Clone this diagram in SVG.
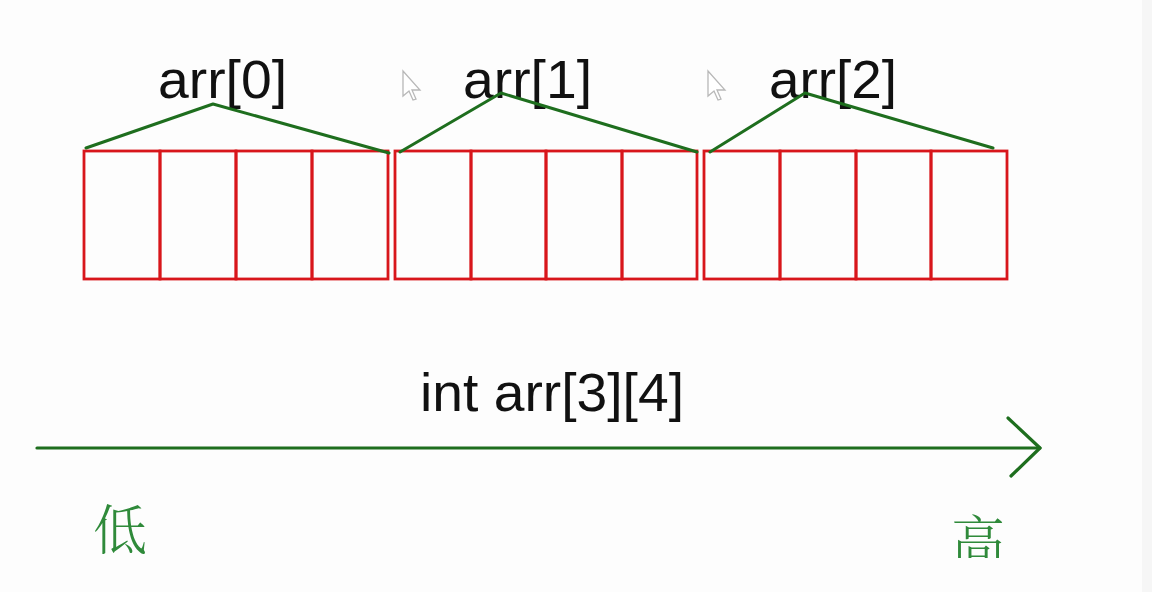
<svg xmlns="http://www.w3.org/2000/svg" width="1152" height="592" viewBox="0 0 1152 592">
  <defs>
    <style>
      .cell { fill: none; stroke: #d8161b; stroke-width: 2.8; }
      .brace { fill: none; stroke: #1e6e1e; stroke-width: 3; stroke-linejoin: round; stroke-linecap: round; }
      .axis { fill: none; stroke: #1e6e1e; stroke-width: 3.2; stroke-linecap: round; stroke-linejoin: round; }
      .lbl { font-family: "Liberation Sans", Arial, sans-serif; font-size: 53px; fill: #111; }
      .cjk { font-family: "Noto Serif CJK SC", "Noto Sans CJK SC", serif; font-size: 54px; fill: #2f8a3a; font-weight: 300; }
      .cursor { fill: #fff; stroke: #b8b8b8; stroke-width: 1.3; }
    </style>
    <clipPath id="clipHigh">
      <rect x="900" y="480" width="150" height="78"/>
    </clipPath>
  </defs>
  <rect width="1152" height="592" fill="#fdfdfd"/>
  <rect x="1142" y="0" width="10" height="592" fill="#f6f6f6"/>

  <g id="row0">
    <rect class="cell" x="84" y="151" width="76" height="128"/>
    <rect class="cell" x="160" y="151" width="76" height="128"/>
    <rect class="cell" x="236" y="151" width="76" height="128"/>
    <rect class="cell" x="312" y="151" width="76" height="128"/>
    <text class="lbl" x="158" y="98" textLength="129" lengthAdjust="spacingAndGlyphs">arr[0]</text>
  </g>
  <g id="row1">
    <rect class="cell" x="395" y="151" width="76" height="128"/>
    <rect class="cell" x="471" y="151" width="75" height="128"/>
    <rect class="cell" x="546" y="151" width="76" height="128"/>
    <rect class="cell" x="622" y="151" width="75" height="128"/>
    <text class="lbl" x="463" y="98" textLength="129" lengthAdjust="spacingAndGlyphs">arr[1]</text>
  </g>
  <g id="row2">
    <rect class="cell" x="704" y="151" width="76" height="128"/>
    <rect class="cell" x="780" y="151" width="76" height="128"/>
    <rect class="cell" x="856" y="151" width="75" height="128"/>
    <rect class="cell" x="931" y="151" width="76" height="128"/>
    <text class="lbl" x="769" y="98" textLength="128" lengthAdjust="spacingAndGlyphs">arr[2]</text>
  </g>

  <g id="connectors">
    <polyline class="brace" points="86,148 213,104 389,153"/>
    <polyline class="brace" points="400,152 501,93 697,152"/>
    <polyline class="brace" points="710,152 805,93 993,148"/>
    <line class="axis" x1="37" y1="448" x2="1040" y2="448"/>
    <polyline class="axis" points="1008,418 1040,448 1011,476"/>
  </g>

  <g id="title">
    <text class="lbl" x="420" y="411" textLength="264" lengthAdjust="spacingAndGlyphs">int arr[3][4]</text>
  </g>
  <g id="low">
    <text class="cjk" x="93" y="550">低</text>
  </g>
  <g id="high" clip-path="url(#clipHigh)">
    <text class="cjk" x="951" y="561">高</text>
  </g>

  <g id="cursors">
    <path class="cursor" d="M403,71 L403,96 L409,91 L413,100 L416,99 L412,90 L420,90 Z"/>
    <path class="cursor" d="M708,71 L708,96 L714,91 L718,100 L721,99 L717,90 L725,90 Z"/>
  </g>
</svg>
